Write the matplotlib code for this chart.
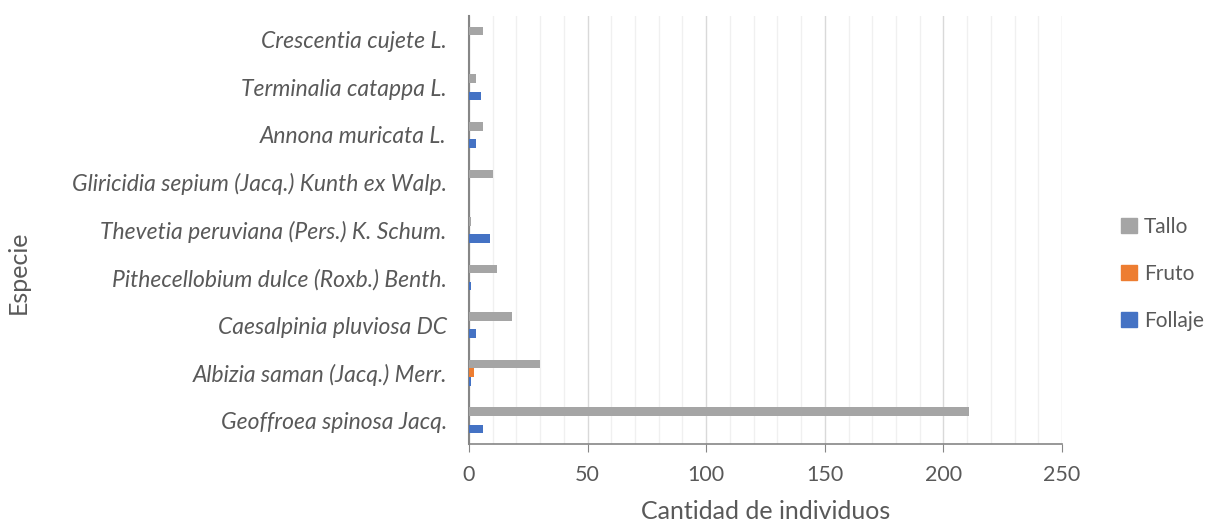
import matplotlib
matplotlib.use("Agg")
import matplotlib.pyplot as plt
import numpy as np
from matplotlib.ticker import MultipleLocator
from matplotlib.patches import Patch

species = ["Geoffroea spinosa Jacq.", "Albizia saman (Jacq.) Merr.", "Caesalpinia pluviosa DC",
           "Pithecellobium dulce (Roxb.) Benth.", "Thevetia peruviana (Pers.) K. Schum.",
           "Gliricidia sepium (Jacq.) Kunth ex Walp.", "Annona muricata L.",
           "Terminalia catappa L.", "Crescentia cujete L."]
tallo = [211, 30, 18, 12, 1, 10, 6, 3, 6]
fruto = [0, 2, 0, 0, 0, 0, 0, 0, 0]
follaje = [6, 1, 3, 1, 9, 0, 3, 5, 0]
xticks = [0, 50, 100, 150, 200, 250]

plt.rcParams['font.family'] = ['Lato', 'DejaVu Sans']
txt = '#595959'
fig = plt.figure(figsize=(12.06, 5.24), dpi=100)
ax = fig.add_axes([469/1206, 1-444/524, (1062-469)/1206, (444-16)/524])

y = np.arange(len(species))
h = 0.18
c_t, c_f, c_fo = '#A5A5A5', '#ED7D31', '#4472C4'
ax.barh(y + h, tallo, height=h, color=c_t, zorder=3)
ax.barh(y, fruto, height=h, color=c_f, zorder=3)
ax.barh(y - h, follaje, height=h, color=c_fo, zorder=3)

ax.set_xlim(0, 250)
ax.set_ylim(-0.5, len(species) - 0.5)
ax.set_xticks(xticks)
ax.xaxis.set_minor_locator(MultipleLocator(10))
ax.grid(axis='x', which='major', color='#D9D9D9', lw=1, zorder=0)
ax.grid(axis='x', which='minor', color='#F0F0F0', lw=1, zorder=0)
ax.set_yticks(y)
ax.set_yticklabels(species, fontstyle='italic', fontsize=16.5, color=txt)
ax.tick_params(axis='y', length=0, pad=16)
ax.tick_params(axis='x', which='major', length=6, color='#868686', labelsize=15.5, labelcolor=txt, pad=9)
ax.tick_params(axis='x', which='minor', length=0)
for s in ['top', 'right']:
    ax.spines[s].set_visible(False)
ax.spines['left'].set_color('#868686')
ax.spines['left'].set_linewidth(1.5)
ax.spines['bottom'].set_color('#868686')
ax.spines['bottom'].set_linewidth(1.2)

ax.set_xlabel('Cantidad de individuos', fontsize=18, color=txt, labelpad=11)
fig.text(18/1206, 1-272/524, 'Especie', rotation=90, fontsize=18, color=txt, va='center', ha='center')

handles = [Patch(color=c_t, label='Tallo'), Patch(color=c_f, label='Fruto'), Patch(color=c_fo, label='Follaje')]
leg = fig.legend(handles=handles, loc='center left', bbox_to_anchor=(1121/1206, 1-274/524),
                 frameon=False, fontsize=15, labelspacing=1.3, handlelength=0.75, handleheight=0.75,
                 handletextpad=0.35, borderpad=0, borderaxespad=0)
for t in leg.get_texts():
    t.set_color(txt)

fig.savefig('out.png', dpi=100)
